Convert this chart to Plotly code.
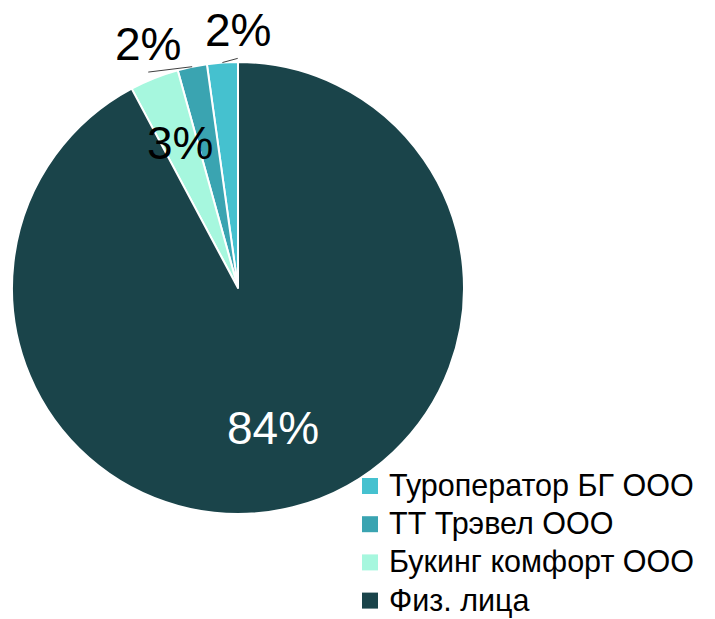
import math
import plotly.graph_objects as go

# ---- data ----
categories = ["Туроператор БГ ООО", "ТТ Трэвел ООО", "Букинг комфорт ООО", "Физ. лица"]
shares = [2.2, 2.1, 3.5, 92.2]          # slice sizes
pct_labels = ["2%", "2%", "3%", "84%"]  # labels printed on the chart
colors = ["#45C1CF", "#3AA4B1", "#A6F7DE", "#1A444A"]

# ---- layout constants (pixels) ----
W, H = 715, 619
CX, CY, R = 238, 288, 226
label_radius = [1.14, 1.15, 0.69, 0.64]
label_angle_shift = [-3.9, 8.5, 0.0, 0.0]
label_colors = ["black", "black", "black", "white"]
leader = [True, True, False, False]
FONT = "Liberation Sans, Arial, sans-serif"
LEG_X0, LEG_Y0, LEG_DY, LEG_SQ, LEG_TX = 362, 486, 38.2, 16, 388


def px(x):
    return x / W


def py(y):
    return 1 - y / H


total = sum(shares)

fig = go.Figure(go.Pie(
    labels=categories,
    values=shares,
    sort=False,
    direction="counterclockwise",
    rotation=-shares[0] / total * 360,
    marker=dict(colors=colors, line=dict(color="white", width=2)),
    textinfo="none",
    hoverinfo="label+percent",
    showlegend=False,
    domain=dict(x=[px(CX - R), px(CX + R)], y=[py(CY + R), py(CY - R)]),
))

cum = 0.0
annotations = []
shapes = []
for i, v in enumerate(shares):
    a0 = cum / total * 360
    cum += v
    a1 = cum / total * 360
    mid = (a0 + a1) / 2
    ang = math.radians(mid + label_angle_shift[i])
    lx = CX - math.sin(ang) * R * label_radius[i]
    ly = CY - math.cos(ang) * R * label_radius[i]
    annotations.append(dict(
        x=px(lx), y=py(ly), xref="paper", yref="paper",
        text=pct_labels[i], showarrow=False,
        font=dict(family=FONT, size=46, color=label_colors[i]),
        xanchor="center", yanchor="middle",
    ))
    if leader[i]:
        m = math.radians(mid)
        ex = CX - math.sin(m) * R
        ey = CY - math.cos(m) * R
        shapes.append(dict(
            type="line", xref="paper", yref="paper",
            x0=px(ex), y0=py(ey), x1=px(lx), y1=py(ly + 28),
            line=dict(color="#404040", width=1),
        ))

# legend drawn manually
for i, (cat, col) in enumerate(zip(categories, colors)):
    yc = LEG_Y0 + i * LEG_DY
    shapes.append(dict(
        type="rect", xref="paper", yref="paper",
        x0=px(LEG_X0), x1=px(LEG_X0 + LEG_SQ),
        y0=py(yc - LEG_SQ / 2), y1=py(yc + LEG_SQ / 2),
        fillcolor=col, line=dict(width=0),
    ))
    annotations.append(dict(
        x=px(LEG_TX), y=py(yc - 0.5), xref="paper", yref="paper",
        text=cat, showarrow=False, borderpad=0,
        font=dict(family=FONT, size=30.5, color="black"),
        xanchor="left", yanchor="middle",
    ))

fig.update_layout(
    width=W, height=H,
    margin=dict(l=0, r=0, t=0, b=0),
    paper_bgcolor="white",
    plot_bgcolor="white",
    font=dict(family=FONT, color="black"),
    showlegend=False,
    annotations=annotations,
    shapes=shapes,
)

fig.write_html(
    "out.html",
    config={"displayModeBar": False},
    post_script="document.body.style.margin='0';document.body.style.overflow='hidden';",
)
